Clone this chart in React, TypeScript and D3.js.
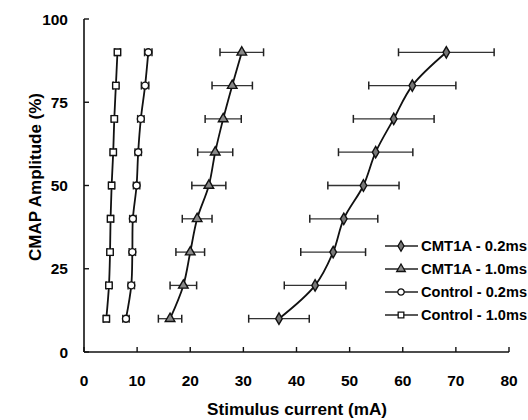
import React, { useRef, useEffect } from "react";
import * as d3 from "d3";

// amplitude levels (%) shared by all series
const levels = [10, 20, 30, 40, 50, 60, 70, 80, 90];

// stimulus current (mA) per level, and SD
const cmt02 = [36.7, 43.5, 46.9, 48.9, 52.6, 54.9, 58.3, 61.8, 68.2];
const cmt02Err = [5.7, 5.8, 6.1, 6.4, 6.7, 7.0, 7.6, 8.2, 9.0];
const cmt10 = [16.2, 18.7, 20.0, 21.3, 23.5, 24.7, 26.2, 27.9, 29.7];
const cmt10Err = [2.2, 2.5, 2.7, 2.8, 3.2, 3.3, 3.4, 3.8, 4.1];
const ctl02 = [7.9, 8.9, 9.1, 9.2, 9.9, 10.2, 10.7, 11.5, 12.1];
const ctl02Err = [0.6, 0.6, 0.6, 0.6, 0.6, 0.6, 0.6, 0.7, 0.7];
const ctl10 = [4.2, 4.7, 4.9, 5.0, 5.2, 5.5, 5.7, 6.0, 6.3];
const ctl10Err = [0.5, 0.5, 0.5, 0.5, 0.5, 0.5, 0.5, 0.5, 0.5];

const seriesNames = ["CMT1A - 0.2ms", "CMT1A - 1.0ms", "Control - 0.2ms", "Control - 1.0ms"];
const xTicks = [0, 10, 20, 30, 40, 50, 60, 70, 80];
const yTicks = [0, 25, 50, 75, 100];

const W = 528;
const H = 420;
const font = "Liberation Sans, Arial, sans-serif";

const App = () => {
  const svgRef = useRef<SVGSVGElement>(null);

  useEffect(() => {
    const svg = d3.select(svgRef.current);
    svg.selectAll("*").remove();

    const x = d3.scaleLinear().domain([0, 80]).range([84, 509]);
    const y = d3.scaleLinear().domain([0, 100]).range([352, 19]);

    const series = [
      { name: seriesNames[0], xs: cmt02, err: cmt02Err, shape: "diamond", fill: "#777" },
      { name: seriesNames[1], xs: cmt10, err: cmt10Err, shape: "triangle", fill: "#888" },
      { name: seriesNames[2], xs: ctl02, err: ctl02Err, shape: "circle", fill: "#fff" },
      { name: seriesNames[3], xs: ctl10, err: ctl10Err, shape: "square", fill: "#fff" },
    ];

    const symbolFor = (s: string) =>
      s === "diamond" ? d3.symbolDiamond : s === "triangle" ? d3.symbolTriangle : s === "circle" ? d3.symbolCircle : d3.symbolSquare;
    const sizeFor = (s: string) => (s === "square" ? 42 : s === "circle" ? 38 : s === "triangle" ? 40 : 38);

    // axes
    const g = svg.append("g");
    g.append("line").attr("x1", x(0)).attr("x2", x(0)).attr("y1", y(100)).attr("y2", y(0))
      .attr("stroke", "#111").attr("stroke-width", 1.6);
    g.append("line").attr("x1", x(0)).attr("x2", x(80)).attr("y1", y(0)).attr("y2", y(0))
      .attr("stroke", "#111").attr("stroke-width", 1.6);

    yTicks.forEach((t) => {
      g.append("line").attr("x1", x(0)).attr("x2", x(0) + 5).attr("y1", y(t)).attr("y2", y(t))
        .attr("stroke", "#111").attr("stroke-width", 1.4);
      g.append("text").attr("x", 68).attr("y", y(t) + 5.5).attr("text-anchor", "end")
        .attr("font-family", font).attr("font-weight", "bold").attr("font-size", 15.5)
        .text(t);
    });
    xTicks.forEach((t) => {
      g.append("line").attr("x1", x(t)).attr("x2", x(t)).attr("y1", y(0)).attr("y2", y(0) - 5)
        .attr("stroke", "#111").attr("stroke-width", 1.4);
      g.append("text").attr("x", x(t)).attr("y", 386).attr("text-anchor", "middle")
        .attr("font-family", font).attr("font-weight", "bold").attr("font-size", 15.5)
        .text(t);
    });

    g.append("text").attr("x", 297).attr("y", 415).attr("text-anchor", "middle")
      .attr("font-family", font).attr("font-weight", "bold").attr("font-size", 16.5)
      .attr("textLength", 180).attr("lengthAdjust", "spacingAndGlyphs")
      .text("Stimulus current (mA)");
    g.append("text").attr("transform", "translate(41,177) rotate(-90)").attr("text-anchor", "middle")
      .attr("font-family", font).attr("font-weight", "bold").attr("font-size", 16.5)
      .attr("textLength", 168).attr("lengthAdjust", "spacingAndGlyphs")
      .text("CMAP Amplitude (%)");

    const line = d3.line<number>()
      .x((d) => x(d))
      .y((_, i) => y(levels[i]))
      .curve(d3.curveCatmullRom);

    series.forEach((s) => {
      const sg = svg.append("g");
      // error bars
      s.xs.forEach((v, i) => {
        const yy = y(levels[i]);
        const lo = x(v - s.err[i]);
        const hi = x(v + s.err[i]);
        sg.append("line").attr("x1", lo).attr("x2", hi).attr("y1", yy).attr("y2", yy)
          .attr("stroke", "#333").attr("stroke-width", 1.3);
        [lo, hi].forEach((e) =>
          sg.append("line").attr("x1", e).attr("x2", e).attr("y1", yy - 4).attr("y2", yy + 4)
            .attr("stroke", "#222").attr("stroke-width", 1.5)
        );
      });
      sg.append("path").datum(s.xs).attr("d", line).attr("fill", "none")
        .attr("stroke", "#111").attr("stroke-width", 1.8);
      sg.selectAll("path.m").data(s.xs).enter().append("path").attr("class", "m")
        .attr("d", d3.symbol().type(symbolFor(s.shape)).size(sizeFor(s.shape)))
        .attr("transform", (d, i) => `translate(${x(d)},${y(levels[i])})`)
        .attr("fill", s.fill).attr("stroke", "#111").attr("stroke-width", 1.4);
    });

    // legend
    const lg = svg.append("g");
    series.forEach((s, i) => {
      const yy = 246 + i * 23;
      lg.append("line").attr("x1", 385).attr("x2", 418).attr("y1", yy).attr("y2", yy)
        .attr("stroke", "#222").attr("stroke-width", 1.4);
      lg.append("path").attr("d", d3.symbol().type(symbolFor(s.shape)).size(32)())
        .attr("transform", `translate(401,${yy})`)
        .attr("fill", s.fill).attr("stroke", "#111").attr("stroke-width", 1.3);
      lg.append("text").attr("x", 421).attr("y", yy + 5)
        .attr("font-family", font).attr("font-weight", "bold").attr("font-size", 14)
        .attr("textLength", 106).attr("lengthAdjust", "spacingAndGlyphs")
        .text(s.name);
    });
  }, []);

  return (
    <svg ref={svgRef} width={W} height={H}
      style={{ position: "absolute", left: 0, top: 0, background: "#fff" }} />
  );
};

export default App;
